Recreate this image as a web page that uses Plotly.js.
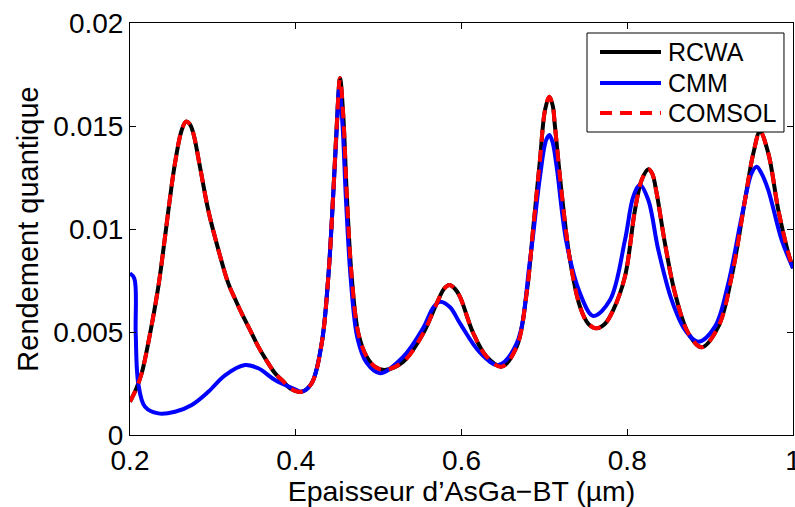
<!DOCTYPE html>
<html>
<head>
<meta charset="utf-8">
<script src="https://cdn.plot.ly/plotly-3.0.1.min.js"></script>
<style>html,body{margin:0;padding:0;background:#fff;}#chart{width:795px;height:507px;}</style>
</head>
<body>
<div id="chart"></div>
<script>
// Epaisseur d'AsGa-BT (µm)
const rcwa_x = [0.2, 0.207, 0.2141, 0.2241, 0.2342, 0.2403, 0.2463, 0.2543, 0.2624, 0.2676, 0.272, 0.2764, 0.2845, 0.2945, 0.3066, 0.3186, 0.3268, 0.3348, 0.3448, 0.3548, 0.365, 0.375, 0.385, 0.393, 0.4071, 0.4192, 0.4313, 0.4393, 0.4453, 0.4494, 0.4534, 0.4574, 0.4615, 0.4675, 0.4755, 0.4856, 0.4960, 0.5077, 0.5298, 0.5539, 0.5701, 0.5790, 0.5853, 0.5920, 0.5982, 0.6142, 0.6303, 0.6485, 0.6666, 0.6786, 0.6867, 0.6947, 0.7008, 0.706, 0.7100, 0.7128, 0.7209, 0.7309, 0.743, 0.7530, 0.7631, 0.7732, 0.7832, 0.7973, 0.8093, 0.8174, 0.8254, 0.8300, 0.8355, 0.8455, 0.8576, 0.8737, 0.8898, 0.9099, 0.926, 0.9421, 0.9521, 0.9602, 0.9702, 0.9823, 0.9944, 1.0];
const rcwa_y = [0.00162, 0.0022, 0.0030, 0.0049, 0.0072, 0.0090, 0.0109, 0.0132, 0.0148, 0.01521, 0.0151, 0.01465, 0.0130, 0.0109, 0.0090, 0.00736, 0.0066, 0.0059, 0.0051, 0.00429, 0.0036, 0.0030, 0.0026, 0.00227, 0.0021, 0.00251, 0.00445, 0.00769, 0.01173, 0.01497, 0.01732, 0.01545, 0.01173, 0.00769, 0.00494, 0.0038, 0.0033, 0.00316, 0.00356, 0.00494, 0.00639, 0.0071, 0.00728, 0.0071, 0.00671, 0.00494, 0.0038, 0.00332, 0.00429, 0.00688, 0.01011, 0.01335, 0.01578, 0.01642, 0.0160, 0.01497, 0.01173, 0.0085, 0.00623, 0.0054, 0.00518, 0.0054, 0.00607, 0.0077, 0.01092, 0.01238, 0.0129, 0.0127, 0.01173, 0.0093, 0.00688, 0.00494, 0.00426, 0.00526, 0.00769, 0.01141, 0.01367, 0.01473, 0.01367, 0.01092, 0.00882, 0.0081];

const cmm_x = [0.2, 0.2052, 0.2069, 0.21, 0.2181, 0.2342, 0.2543, 0.2745, 0.2945, 0.3146, 0.3388, 0.3548, 0.375, 0.3991, 0.4071, 0.4192, 0.4313, 0.4393, 0.4453, 0.4494, 0.4525, 0.4565, 0.4605, 0.4665, 0.4745, 0.4856, 0.5017, 0.5298, 0.5539, 0.5661, 0.5742, 0.5862, 0.5982, 0.6223, 0.6444, 0.6666, 0.6827, 0.6947, 0.7020, 0.706, 0.7100, 0.7148, 0.7269, 0.743, 0.7591, 0.7792, 0.7973, 0.8073, 0.8154, 0.8254, 0.8375, 0.8536, 0.8697, 0.8857, 0.9058, 0.9219, 0.9381, 0.9500, 0.9562, 0.9620, 0.9702, 0.9863, 1.0];
const cmm_y = [0.00785, 0.0076, 0.0049, 0.0025, 0.00137, 0.00105, 0.00113, 0.00146, 0.0021, 0.0029, 0.0034, 0.00324, 0.00267, 0.00222, 0.0021, 0.00251, 0.00445, 0.00769, 0.01173, 0.01480, 0.0168, 0.0150, 0.0115, 0.0075, 0.0047, 0.0035, 0.0030, 0.0038, 0.0052, 0.0062, 0.00647, 0.0062, 0.00542, 0.0040, 0.0034, 0.00445, 0.0085, 0.01254, 0.0143, 0.01456, 0.0142, 0.01302, 0.0093, 0.00688, 0.00578, 0.00655, 0.00947, 0.01157, 0.01214, 0.01141, 0.00898, 0.00655, 0.0051, 0.00453, 0.00526, 0.00736, 0.0106, 0.0127, 0.01302, 0.0127, 0.01189, 0.00947, 0.0081];

const comsol_x = [0.2, 0.207, 0.2141, 0.2241, 0.2342, 0.2403, 0.2463, 0.2543, 0.2624, 0.2676, 0.272, 0.2764, 0.2845, 0.2945, 0.3066, 0.3186, 0.3268, 0.3348, 0.3448, 0.3548, 0.365, 0.375, 0.385, 0.393, 0.4071, 0.4192, 0.4313, 0.4393, 0.4453, 0.4494, 0.4534, 0.4574, 0.4615, 0.4675, 0.4755, 0.4856, 0.4960, 0.5077, 0.5298, 0.5539, 0.5701, 0.5790, 0.5853, 0.5920, 0.5982, 0.6142, 0.6303, 0.6485, 0.6666, 0.6786, 0.6867, 0.6947, 0.7008, 0.706, 0.7100, 0.7128, 0.7209, 0.7309, 0.743, 0.7530, 0.7631, 0.7732, 0.7832, 0.7973, 0.8093, 0.8174, 0.8254, 0.8300, 0.8355, 0.8455, 0.8576, 0.8737, 0.8898, 0.9099, 0.926, 0.9421, 0.9521, 0.9602, 0.9702, 0.9823, 0.9944, 1.0];
const comsol_y = [0.00162, 0.0022, 0.0030, 0.0049, 0.0072, 0.0090, 0.0109, 0.0132, 0.0148, 0.01521, 0.0151, 0.01465, 0.0130, 0.0109, 0.0090, 0.00736, 0.0066, 0.0059, 0.0051, 0.00429, 0.0036, 0.0030, 0.0026, 0.00227, 0.0021, 0.00251, 0.00445, 0.00769, 0.01173, 0.01497, 0.01732, 0.01545, 0.01173, 0.00769, 0.00494, 0.0038, 0.0033, 0.00316, 0.00356, 0.00494, 0.00639, 0.0071, 0.00728, 0.0071, 0.00671, 0.00494, 0.0038, 0.00332, 0.00429, 0.00688, 0.01011, 0.01335, 0.01578, 0.01642, 0.0160, 0.01497, 0.01173, 0.0085, 0.00623, 0.0054, 0.00518, 0.0054, 0.00607, 0.0077, 0.01092, 0.01238, 0.0129, 0.0127, 0.01173, 0.0093, 0.00688, 0.00494, 0.00426, 0.00526, 0.00769, 0.01141, 0.01367, 0.01473, 0.01367, 0.01092, 0.00882, 0.0081];

const series_names = ["RCWA", "CMM", "COMSOL"];
const series_colors = ["#000000", "#0000ff", "#ff0000"];
const series_dash = ["solid", "solid", "12px,8px"];
const x_tickvals = [0.2, 0.4, 0.6, 0.8, 1];
const x_ticktext = ["0.2", "0.4", "0.6", "0.8", "1"];
const y_tickvals = [0, 0.005, 0.01, 0.015, 0.02];
const y_ticktext = ["0", "0.005", "0.01", "0.015", "0.02"];
const x_title = "Epaisseur d’AsGa−BT (µm)";
const y_title = "Rendement quantique";

const FONT = "Liberation Sans, Arial, sans-serif";
const LW = 4;

const xs = [rcwa_x, cmm_x, comsol_x];
const ys = [rcwa_y, cmm_y, comsol_y];
const traces = series_names.map((n, i) => ({
  x: xs[i], y: ys[i], name: n, mode: "lines", showlegend: false,
  line: {color: series_colors[i], width: LW, dash: series_dash[i], shape: "spline", smoothing: 1}
}));

// legend box (paper coordinates of the plot area)
const legBox = {x0: 0.6893, x1: 0.9864, y0: 0.7354, y1: 0.9757};
const legRows = [0.9296, 0.8544, 0.7816];
const legLine = [0.7089, 0.8009];
const legText = 0.8085;

const shapes = [{type: "rect", xref: "paper", yref: "paper",
  x0: legBox.x0, x1: legBox.x1, y0: legBox.y0, y1: legBox.y1,
  line: {color: "#000", width: 1}, fillcolor: "#fff", layer: "above"}];
const annotations = [];
series_names.forEach((n, i) => {
  shapes.push({type: "line", xref: "paper", yref: "paper",
    x0: legLine[0], x1: legLine[1], y0: legRows[i], y1: legRows[i],
    line: {color: series_colors[i], width: LW, dash: series_dash[i]}, layer: "above"});
  annotations.push({xref: "paper", yref: "paper", x: legText, y: legRows[i],
    xanchor: "left", yanchor: "middle", text: n, showarrow: false,
    font: {family: FONT, size: 25, color: "#000"}});
});

const axisCommon = {
  showline: true, linecolor: "#000", linewidth: 1, mirror: "allticks",
  ticks: "inside", ticklen: 6, tickwidth: 1, tickcolor: "#000",
  showgrid: false, zeroline: false, ticklabeloverflow: "allow",
  tickfont: {family: FONT, size: 28, color: "#000"}
};

const layout = {
  width: 795, height: 507,
  margin: {l: 130, r: 2, t: 23, b: 72, pad: 0},
  paper_bgcolor: "#fff", plot_bgcolor: "#fff",
  font: {family: FONT, color: "#000"},
  showlegend: false,
  xaxis: Object.assign({}, axisCommon, {
    range: [0.2, 1], tickmode: "array", tickvals: x_tickvals, ticktext: x_ticktext,
    title: {text: x_title, font: {family: FONT, size: 28.5, color: "#000"}, standoff: 1}
  }),
  yaxis: Object.assign({}, axisCommon, {
    range: [0, 0.02], tickmode: "array", tickvals: y_tickvals, ticktext: y_ticktext,
    title: {text: y_title, font: {family: FONT, size: 29, color: "#000"}, standoff: 6}
  }),
  shapes: shapes,
  annotations: annotations
};

Plotly.newPlot("chart", traces, layout, {displayModeBar: false, staticPlot: true});
</script>
</body>
</html>
